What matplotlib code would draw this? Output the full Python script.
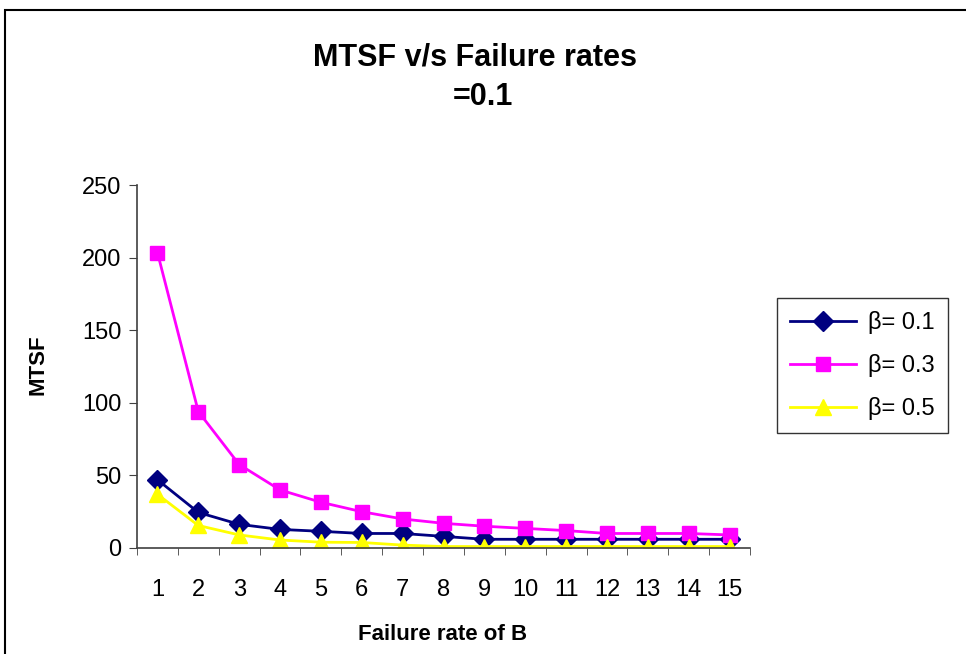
import matplotlib
matplotlib.use("Agg")
import matplotlib.pyplot as plt
from matplotlib.patches import Rectangle
from matplotlib.ticker import FixedLocator

plt.rcParams["font.family"] = ["Liberation Sans", "DejaVu Sans"]

rates = list(range(1, 16))
beta_01 = [47, 24.5, 16.3, 12.8, 11.5, 10, 10, 8, 6, 6, 6, 6, 6, 6, 6]
beta_03 = [203.5, 94, 57.5, 40, 31.5, 25, 20, 17, 15, 13.5, 12, 10, 10, 10, 9]
beta_05 = [37, 15.5, 9, 5.5, 4, 3.8, 2, 1, 1, 1, 1, 1, 1, 1, 1]
labels = ["β= 0.1", "β= 0.3", "β= 0.5"]

fig = plt.figure(figsize=(9.66, 6.54), dpi=100)
fig.patch.set_facecolor("white")

# outer chart border (runs off right and bottom edges)
fig.add_artist(Rectangle((5 / 966, -0.05), 1.0, 1 - 10 / 654 + 0.05,
                         transform=fig.transFigure, fill=False, ec="black", lw=1.5))

ax = fig.add_axes([137 / 966, 1 - 548 / 654, 613 / 966, 363 / 654])
ax.plot(rates, beta_01, color="#000080", marker="D", ms=10.5, lw=2, label=labels[0])
ax.plot(rates, beta_03, color="#ff00ff", marker="s", ms=9.5, lw=2, label=labels[1])
ax.plot(rates, beta_05, color="#ffff00", marker="^", ms=12, lw=2, label=labels[2])

ax.set_xlim(0.5, 15.5)
ax.set_ylim(0, 250)
ax.set_xticks(rates)
ax.xaxis.set_minor_locator(FixedLocator([r + 0.5 for r in range(0, 16)]))
ax.tick_params(axis="x", which="major", length=0, pad=22, labelsize=17)
ax.tick_params(axis="x", which="minor", length=5, direction="out", color="#404040")
ax.set_yticks(range(0, 251, 50))
ax.tick_params(axis="y", length=6, direction="out", labelsize=17, pad=5, color="#404040")
for s in ["top", "right"]:
    ax.spines[s].set_visible(False)
for s in ["left", "bottom"]:
    ax.spines[s].set_color("#404040")
    ax.spines[s].set_linewidth(1.2)

fig.text(475 / 966, 1 - 57 / 654, "MTSF v/s Failure rates", ha="center", va="center",
         fontsize=22, fontweight="bold")
fig.text(483 / 966, 1 - 97 / 654, "=0.1", ha="center", va="center",
         fontsize=22, fontweight="bold")
fig.text(38 / 966, 1 - 365 / 654, "MTSF", rotation=90, ha="center", va="center",
         fontsize=16, fontweight="bold")
fig.text(443 / 966, 1 - 634 / 654, "Failure rate of B", ha="center", va="center",
         fontsize=16, fontweight="bold")

leg = fig.legend(loc="upper left", bbox_to_anchor=(777 / 966, 1 - 298 / 654),
                 fontsize=17, frameon=True, fancybox=False, handlelength=2.8,
                 borderpad=0.55, labelspacing=0.85, handletextpad=0.5,
                 borderaxespad=0)
leg.get_frame().set_edgecolor("black")
leg.get_frame().set_linewidth(1.0)

fig.savefig("out.png", dpi=100, facecolor="white")
